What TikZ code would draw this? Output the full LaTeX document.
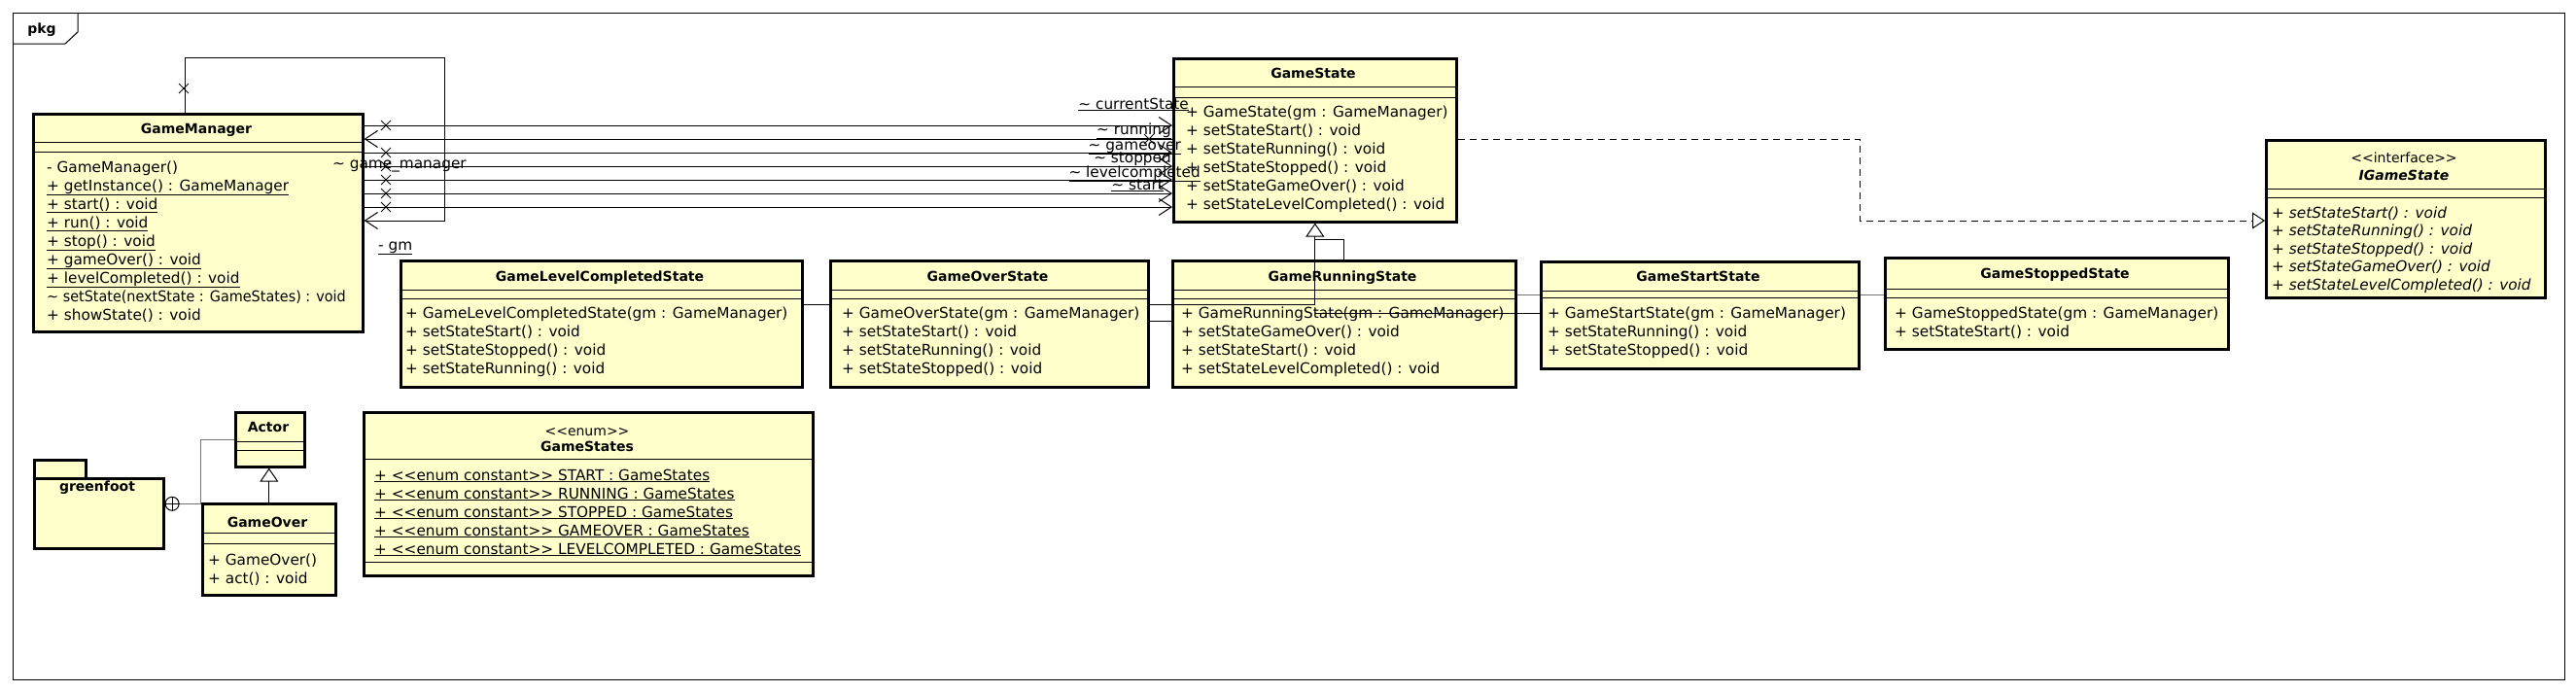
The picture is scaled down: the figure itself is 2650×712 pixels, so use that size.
\documentclass[tikz,border=0pt]{standalone}
\usepackage{fontspec}
\setmainfont{DejaVu Sans}
\usepackage{graphicx}
\usepackage{tikz}
\usetikzlibrary{arrows.meta,shapes.misc,positioning}

\definecolor{umlyellow}{RGB}{255,255,204}
\newcommand{\ltlt}{<\kern0pt<}
\newcommand{\gtgt}{>\kern0pt>}
\newcommand{\tld}{\textasciitilde}
\newcommand{\umlsize}{\fontsize{15.3}{19}\selectfont}
\newcommand{\titlesize}{\fontsize{14}{19}\selectfont}

\begin{document}
\begin{tikzpicture}[x=1pt, y=-1pt, font=\umlsize,
    cls/.style={draw, line width=2.6pt, fill=umlyellow, anchor=north west, inner sep=0pt},
    sep/.style={line width=1pt},
    title/.style={font=\titlesize\bfseries, anchor=base, inner sep=0pt},
    stereo/.style={font=\titlesize, anchor=base, inner sep=0pt},
    ops/.style={font=\umlsize, align=left, anchor=base west, inner sep=0pt},
    role/.style={font=\umlsize, anchor=base east, inner sep=0pt},
    xmark/.style={cross out, draw, line width=1pt, minimum size=9pt, inner sep=0pt},
    assoc/.style={line width=1pt},
    nav/.style={assoc, -{Straight Barb[length=13pt, width=17pt]}},
    gen/.style={assoc, -{Triangle[open, fill=white, length=14pt, width=19pt]}},
    real/.style={assoc, dash pattern=on 7pt off 5pt, -{Triangle[open, fill=white, length=13pt, width=17pt]}}]
\useasboundingbox (0,0) rectangle (2650,712);

% package frame
\node (frame) [draw, line width=1pt, anchor=north west, minimum width=2625pt, minimum height=686pt] at (13,13) {};
\draw[line width=1pt] (frame.north west) ++(0,32) -- ++(54,0) -- ++(13,-12) -- ++(0,-20);
\node (pkg) [title] at (43,34) {pkg};

% GameManager (ops nodes sit on the baseline of their last line)
\node (gmanager) [cls, minimum width=339pt, minimum height=224pt] at (33,116) {};
\draw[sep] ([yshift=-30pt]gmanager.north west) -- ([yshift=-30pt]gmanager.north east);
\draw[sep] ([yshift=-40pt]gmanager.north west) -- ([yshift=-40pt]gmanager.north east);
\node (gmanagertitle) [title] at (202,137) {GameManager};
\node (gmanagerops) [ops] at (48,329) {- GameManager()\\
  \underline{+ getInstance() : GameManager}\\
  \underline{+ start() : void}\\
  \underline{+ run() : void}\\
  \underline{+ stop() : void}\\
  \underline{+ gameOver() : void}\\
  \underline{+ levelCompleted() : void}\\
  \scalebox{0.94}[1]{\tld{} setState(nextState : GameStates) : void}\\
  + showState() : void};

% GameState
\node (gstate) [cls, minimum width=291pt, minimum height=168pt] at (1206,59) {};
\draw[sep] ([yshift=-30pt]gstate.north west) -- ([yshift=-30pt]gstate.north east);
\draw[sep] ([yshift=-41pt]gstate.north west) -- ([yshift=-41pt]gstate.north east);
\node (gstatetitle) [title] at (1351,80) {GameState};
\node (gstateops) [ops] at (1220,215) {+ GameState(gm : GameManager)\\
  + setStateStart() : void\\
  + setStateRunning() : void\\
  + setStateStopped() : void\\
  + setStateGameOver() : void\\
  + setStateLevelCompleted() : void};

% IGameState
\node (istate) [cls, minimum width=287pt, minimum height=162pt] at (2330,143) {};
\draw[sep] ([yshift=-51pt]istate.north west) -- ([yshift=-51pt]istate.north east);
\draw[sep] ([yshift=-60pt]istate.north west) -- ([yshift=-60pt]istate.north east);
\node (istatestereo) [stereo] at (2473,167) {\ltlt interface\gtgt};
\node (istatetitle) [title, font=\titlesize\bfseries\itshape, below=18pt of istatestereo.base, anchor=base] {IGameState};
\node (istateops) [ops, font=\umlsize\itshape] at (2337,298) {+ setStateStart() : void\\[-0.5pt]
  + setStateRunning() : void\\[-0.5pt]
  + setStateStopped() : void\\[-0.5pt]
  + setStateGameOver() : void\\[-0.5pt]
  + setStateLevelCompleted() : void};

% state classes
\node (lcstate) [cls, minimum width=413pt, minimum height=130pt] at (411,267) {};
\draw[sep] ([yshift=-31pt]lcstate.north west) -- ([yshift=-31pt]lcstate.north east);
\draw[sep] ([yshift=-40pt]lcstate.north west) -- ([yshift=-40pt]lcstate.north east);
\node (lcstatetitle) [title] at (617,289) {GameLevelCompletedState};
\node (lcstateops) [ops] at (417,384) {+ GameLevelCompletedState(gm : GameManager)\\
  + setStateStart() : void\\
  + setStateStopped() : void\\
  + setStateRunning() : void};

\node (rnstate) [cls, minimum width=353pt, minimum height=130pt] at (1205,267) {};
\draw[sep] ([yshift=-31pt]rnstate.north west) -- ([yshift=-31pt]rnstate.north east);
\draw[sep] ([yshift=-40pt]rnstate.north west) -- ([yshift=-40pt]rnstate.north east);
\node (rnstatetitle) [title] at (1381,289) {GameRunningState};
\node (rnstateops) [ops] at (1215,384) {+ GameRunningState(gm : GameManager)\\
  + setStateGameOver() : void\\
  + setStateStart() : void\\
  + setStateLevelCompleted() : void};

\node (spstate) [cls, minimum width=353pt, minimum height=94pt] at (1938,264) {};
\draw[sep] ([yshift=-33pt]spstate.north west) -- ([yshift=-33pt]spstate.north east);
\draw[sep] ([yshift=-42pt]spstate.north west) -- ([yshift=-42pt]spstate.north east);
\node (spstatetitle) [title] at (2114,286) {GameStoppedState};
\node (spstateops) [ops] at (1949,346) {+ GameStoppedState(gm : GameManager)\\
  + setStateStart() : void};

% hidden line behind GameStartState
\draw[assoc, draw=black!55] (spstate.west |- 0,303) -- (rnstate.east |- 0,303);

\node (ststate) [cls, minimum width=327pt, minimum height=110pt] at (1584,268) {};
\draw[sep] ([yshift=-31pt]ststate.north west) -- ([yshift=-31pt]ststate.north east);
\draw[sep] ([yshift=-38pt]ststate.north west) -- ([yshift=-38pt]ststate.north east);
\node (ststatetitle) [title] at (1747,289) {GameStartState};
\node (ststateops) [ops] at (1592,365) {+ GameStartState(gm : GameManager)\\
  + setStateRunning() : void\\
  + setStateStopped() : void};

% generalizations to GameState
\draw[assoc] (gstate.south |- 0,322) -- (ststate.west |- 0,322);
\draw[assoc] (lcstate.east |- 0,313) -- (gstate.south |- 0,313);
\draw[gen] (gstate.south |- 0,313) -- (gstate.south);
\draw[assoc] (rnstate.north) |- (gstate.south |- 0,246);

\node (ovstate) [cls, minimum width=327pt, minimum height=130pt] at (853,267) {};
\draw[sep] ([yshift=-31pt]ovstate.north west) -- ([yshift=-31pt]ovstate.north east);
\draw[sep] ([yshift=-40pt]ovstate.north west) -- ([yshift=-40pt]ovstate.north east);
\node (ovstatetitle) [title] at (1016,289) {GameOverState};
\node (ovstateops) [ops] at (866,384) {+ GameOverState(gm : GameManager)\\
  + setStateStart() : void\\
  + setStateRunning() : void\\
  + setStateStopped() : void};
\draw[assoc] (ovstate.east |- 0,330) -- (rnstate.west |- 0,330);

% realization
\draw[real] (gstate.east |- 0,143) -| (1913,185) |- (istate.west |- 0,227);

% GameManager <-> GameState
\draw[nav] (gmanager.east |- 0,129) -- (gstate.west |- 0,129);
\draw[nav] (gstate.west |- 0,143) -- (gmanager.east |- 0,143);
\draw[nav] (gmanager.east |- 0,157) -- (gstate.west |- 0,157);
\draw[nav] (gmanager.east |- 0,171) -- (gstate.west |- 0,171);
\draw[nav] (gmanager.east |- 0,185) -- (gstate.west |- 0,185);
\draw[nav] (gmanager.east |- 0,199) -- (gstate.west |- 0,199);
\draw[nav] (gmanager.east |- 0,213) -- (gstate.west |- 0,213);
\node (x1) [xmark] at (397,129) {};
\node (x2) [xmark] at (397,157) {};
\node (x3) [xmark] at (397,171) {};
\node (x4) [xmark] at (397,185) {};
\node (x5) [xmark] at (397,199) {};
\node (x6) [xmark] at (397,213) {};
\node (x7) [xmark] at (1182,143) {};
\node (rcurrent) [role] at (1223,112) {\underline{\tld{} currentState}};
\node (rrunning) [role] at (1205,138) {\underline{\tld{} running}};
\node (rgameover) [role] at (1215,154) {\underline{\tld{} gameover}};
\node (rstopped) [role] at (1205,167) {\underline{\tld{} stopped}};
\node (rlevel) [role] at (1235,182) {\underline{\tld{} levelcompleted}};
\node (rstart) [role] at (1197,195) {\underline{\tld{} start}};
\node (rgamemanager) [role, anchor=base west] at (342,173) {\tld{} game\_manager};

% singleton self association
\draw[nav] ([xshift=-13pt]gmanager.north) |- (457,59) |- (gmanager.east |- 0,227);
\node (xself) [xmark] at (189,91) {};
\node (rgm) [role, anchor=base west] at (389,257) {\underline{- gm}};

% greenfoot
\node (gftab) [cls, minimum width=53pt, minimum height=19pt] at (34,472) {};
\node (greenfoot) [cls, minimum width=133pt, minimum height=72pt] at (34,491) {};
\node (greenfoottitle) [title] at (100,505) {greenfoot};
\node (actor) [cls, minimum width=71pt, minimum height=56pt] at (241,423) {};
\draw[sep] ([yshift=-31pt]actor.north west) -- ([yshift=-31pt]actor.north east);
\draw[sep] ([yshift=-40pt]actor.north west) -- ([yshift=-40pt]actor.north east);
\node (actortitle) [title] at (276,444) {Actor};
\node (nest) [circle, draw, fill=white, line width=1pt, minimum size=14pt, inner sep=0pt, anchor=west] at ([yshift=10pt]greenfoot.east) {};
\draw[line width=1pt] (nest.north) -- (nest.south) (nest.west) -- (nest.east);
\draw[assoc, draw=black!55] (nest.east) -- ++(22,0) |- (actor.west);

\node (gover) [cls, minimum width=137pt, minimum height=94pt] at (207,517) {};
\draw[sep] ([yshift=-31pt]gover.north west) -- ([yshift=-31pt]gover.north east);
\draw[sep] ([yshift=-42pt]gover.north west) -- ([yshift=-42pt]gover.north east);
\node (govertitle) [title] at (275,542) {GameOver};
\node (goverops) [ops] at (214,600) {+ GameOver()\\
  + act() : void};
\draw[gen] (gover.north) -- (gover.north |- actor.south);

% enum
\node (gstates) [cls, minimum width=462pt, minimum height=168pt] at (373,423) {};
\draw[sep] ([yshift=-49pt]gstates.north west) -- ([yshift=-49pt]gstates.north east);
\draw[sep] ([yshift=-155pt]gstates.north west) -- ([yshift=-155pt]gstates.north east);
\node (gstatesstereo) [stereo] at (604,448) {\ltlt enum\gtgt};
\node (gstatestitle) [title, below=16pt of gstatesstereo.base, anchor=base] {GameStates};
\node (gstatesops) [ops] at (385,570) {\underline{+ \ltlt enum constant\gtgt{} START : GameStates}\\
  \underline{+ \ltlt enum constant\gtgt{} RUNNING : GameStates}\\
  \underline{+ \ltlt enum constant\gtgt{} STOPPED : GameStates}\\
  \underline{+ \ltlt enum constant\gtgt{} GAMEOVER : GameStates}\\
  \underline{+ \ltlt enum constant\gtgt{} LEVELCOMPLETED : GameStates}};
\end{tikzpicture}
\end{document}
